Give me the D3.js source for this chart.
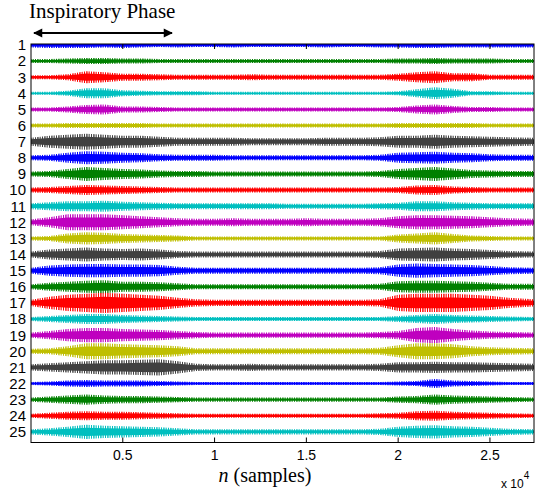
<!DOCTYPE html>
<html>
<head>
<meta charset="utf-8">
<script src="https://cdn.jsdelivr.net/npm/d3@7"></script>
<style>
  body { margin: 0; background: #fff; }
  svg { display: block; }
</style>
</head>
<body>
<div id="chart"></div>
<script>
// sample positions (n) where the envelope of each channel was read
const sampleIndex = [0, 1000, 2000, 3000, 4000, 5000, 6000, 7000, 8000, 9000, 10000, 11000, 12000, 13000,
  14000, 15000, 16000, 17000, 18000, 19000, 20000, 21000, 22000, 23000, 24000, 25000, 26000, 27400];

const channelLabels = d3.range(1, 26).map(String);

// half-amplitude of each channel (a.u., channel spacing = 16 a.u.)
const envelopes = [
  [2.5, 3, 3, 3, 2.5, 3, 2.5, 2, 2.5, 2, 2, 2.5, 2, 2, 2, 2, 2.5, 2, 2, 2.5, 2.5, 3, 3, 2.5, 2.5, 2.5, 2.5, 2.5],
  [2, 2, 2.5, 3, 3, 2.5, 2.5, 2, 2, 2, 2, 2, 2, 2, 2, 2, 2, 2, 2, 2, 2.5, 2.5, 3, 2.5, 2.5, 2.5, 2, 2],
  [2, 2, 3, 6, 5, 3.5, 3.5, 3, 2.5, 2.5, 2.5, 2.5, 3, 2.5, 2.5, 2.5, 2.5, 2.5, 2.5, 2.5, 3.5, 5, 6, 4, 4, 2.5, 2.5, 2.5],
  [1.5, 1.5, 2.5, 5, 5, 3, 2.5, 2, 2, 2, 1.5, 1.5, 1.5, 1.5, 1.5, 1.5, 1.5, 1.5, 1.5, 1.5, 2, 4, 6, 4.5, 2, 2, 1.5, 1.5],
  [2, 2, 3, 4.5, 5, 3, 3, 2.5, 2, 2, 2, 2, 2, 2, 2, 2, 2, 2, 2, 2, 2.5, 4, 5, 3.5, 2.5, 2.5, 2, 2],
  [2, 2, 2.5, 2.5, 2.5, 2.5, 2.5, 2, 2, 2, 2, 2, 2, 2, 2, 2, 2, 2, 2, 2, 2.5, 2.5, 2.5, 2.5, 2.5, 2, 2, 2],
  [4, 6, 7, 8, 7, 6, 6, 5, 4, 4, 4, 4, 3.5, 3.5, 3.5, 3.5, 4, 4, 4, 4.5, 6, 6, 7, 6, 5.5, 5, 4.5, 4],
  [2.5, 3, 5, 6.5, 6, 5, 4.5, 3.5, 3, 3, 3, 2.5, 2.5, 2.5, 2.5, 2.5, 2.5, 2.5, 2.5, 3, 5, 5.5, 6, 5, 4.5, 3.5, 3, 3],
  [2.5, 3, 5, 7, 6, 5, 4.5, 3.5, 3, 3, 2.5, 2.5, 2.5, 2.5, 2.5, 2.5, 2.5, 2.5, 2.5, 3, 5, 6, 7, 5.5, 4, 3.5, 3, 3],
  [2.5, 3, 4, 5, 4.5, 4, 3.5, 3, 2.5, 2.5, 2.5, 2.5, 2.5, 2.5, 2.5, 2.5, 2.5, 2.5, 2.5, 2.5, 3, 4.5, 5, 3.5, 3, 2.5, 2.5, 2.5],
  [3, 4, 5, 5, 5.5, 4.5, 4, 3.5, 3, 3, 3, 3, 3, 3, 2.5, 2.5, 2.5, 2.5, 2.5, 3, 3.5, 5, 5, 4, 3.5, 3, 3, 3],
  [3, 5, 8, 8, 8, 7, 6, 5, 4, 3.5, 3.5, 4, 3.5, 3.5, 3.5, 4, 3.5, 3.5, 3.5, 4, 6, 7, 7, 6.5, 6, 5, 4, 3.5],
  [2, 2.5, 5, 6, 5.5, 4.5, 4, 3.5, 3, 2, 2, 2, 2, 2, 2, 2, 2, 2, 2, 2, 4, 5, 6, 4.5, 3, 2.5, 2, 2],
  [3, 5, 6, 7, 6, 5.5, 6, 5, 3.5, 3, 3, 3, 3, 3, 3, 3, 3, 3, 3, 3.5, 6, 6.5, 7, 6, 5.5, 4.5, 3.5, 3],
  [3, 5, 6, 6.5, 6.5, 6, 6, 5.5, 4, 3, 3, 3, 3, 3, 3, 3, 3, 3, 3, 3.5, 6, 7, 6.5, 6, 5.5, 4.5, 3.5, 3],
  [2.5, 4, 5, 6, 6.5, 5, 5, 4.5, 3.5, 2.5, 2.5, 2.5, 2.5, 2.5, 2.5, 2.5, 2.5, 2.5, 2.5, 3, 5.5, 6, 6, 5.5, 5, 4, 3, 3],
  [3, 6, 8, 9, 10, 9, 8, 7, 5, 3.5, 3, 3, 3, 3, 3, 3, 3, 3, 3, 3.5, 8, 9, 9, 9, 8, 7, 5, 3.5],
  [2, 3, 4, 5, 5, 4, 3.5, 3, 2.5, 2, 2, 2, 2, 2, 2, 2, 2, 2, 2, 2, 3, 4, 5, 4, 3.5, 3, 2.5, 2],
  [2.5, 4, 6, 7, 7, 6, 5.5, 5, 4, 3, 2.5, 2.5, 2.5, 2.5, 2.5, 2.5, 2.5, 2.5, 2.5, 3, 4, 7, 8, 6, 4.5, 3.5, 3, 2.5],
  [2.5, 3, 5, 8, 8, 7, 6.5, 6, 5, 3, 3, 3, 3, 3, 3, 3, 3, 3, 3, 3.5, 6, 8, 8, 7, 5, 4, 3.5, 3],
  [3, 4, 5, 6, 7, 7, 7.5, 8, 6, 3.5, 3, 3, 3.5, 3, 3, 3, 3, 3, 3, 3.5, 5, 5, 5.5, 5, 5, 4.5, 4, 3.5],
  [1.5, 2, 3, 3.5, 3, 3, 3, 2.5, 2, 1.5, 1.5, 1.5, 1.5, 1.5, 1.5, 1.5, 1.5, 1.5, 1.5, 1.5, 2, 2.5, 4.5, 3, 2.5, 2, 1.5, 1.5],
  [2, 3, 4, 5, 4, 3.5, 3.5, 3, 2.5, 2, 2, 2, 2, 2, 2, 2, 2, 2, 2, 2, 3, 3.5, 5, 4, 3.5, 3, 2.5, 2],
  [2, 3, 4, 4.5, 4, 4, 3.5, 3, 2.5, 2, 2, 2, 2, 2, 2, 2, 2, 2, 2, 2.5, 3, 4.5, 5, 4, 3.5, 3, 2.5, 2],
  [2.5, 3.5, 5, 7, 6, 5.5, 5, 4.5, 3.5, 2.5, 2.5, 2.5, 2.5, 2.5, 2.5, 2.5, 2.5, 2.5, 2.5, 3, 5, 6, 6.5, 5.5, 5, 4, 3, 2.5]
];

const xTicks = [0.5, 1, 1.5, 2, 2.5];   // x 10^4 samples
const xMax = 2.74;                      // x 10^4

const channelStep = 16;
// MATLAB default line colour order
const colors = ['#0000ff', '#008000', '#ff0000', '#00bfbf', '#bf00bf', '#bfbf00', '#404040'];

const W = 535, H = 493;
const plot = { left: 31, right: 534, top: 44, bottom: 442.5 };

const svg = d3.select('#chart').append('svg')
  .attr('width', W).attr('height', H)
  .style('font-family', '"Liberation Sans", Arial, sans-serif');

const defs = svg.append('defs');

const x = d3.scaleLinear().domain([0, xMax * 1e4]).range([plot.left, plot.right]);
const y = d3.scaleLinear().domain([0.94, 25.66]).range([plot.top, plot.bottom]);

// hatch fill so the fringe of each trace reads as a dense line rather than a flat blob
colors.forEach((c, i) => {
  const p = defs.append('pattern').attr('id', 'hatch' + i)
    .attr('patternUnits', 'userSpaceOnUse')
    .attr('width', 7).attr('height', 40);
  [[0, 1], [2, 0.8], [3.4, 1], [5.2, 0.7]].forEach(([px, w]) => {
    p.append('rect').attr('x', px).attr('y', 0).attr('width', w).attr('height', 40).attr('fill', c);
  });
});

defs.append('clipPath').attr('id', 'clip')
  .append('rect')
  .attr('x', plot.left).attr('y', plot.top)
  .attr('width', plot.right - plot.left).attr('height', plot.bottom - plot.top);

const traces = svg.append('g').attr('clip-path', 'url(#clip)');

envelopes.forEach((env, i) => {
  const ch = i + 1;
  const pts = sampleIndex.map((n, k) => ({ n, a: env[k] }));
  const outer = d3.area()
    .x(d => x(d.n))
    .y0(d => y(ch + d.a / channelStep))
    .y1(d => y(ch - d.a / channelStep));
  const inner = d3.area()
    .x(d => x(d.n))
    .y0(d => y(ch + Math.max(0.8, d.a * 0.6) / channelStep))
    .y1(d => y(ch - Math.max(0.8, d.a * 0.6) / channelStep));
  const ci = i % colors.length;
  traces.append('path').datum(pts).attr('d', outer).attr('fill', 'url(#hatch' + ci + ')');
  traces.append('path').datum(pts).attr('d', inner).attr('fill', colors[ci]);
});

// box
svg.append('rect')
  .attr('x', plot.left).attr('y', plot.top)
  .attr('width', plot.right - plot.left).attr('height', plot.bottom - plot.top)
  .attr('fill', 'none').attr('stroke', '#000').attr('stroke-width', 1);

// x ticks (inward, bottom and top)
xTicks.forEach(t => {
  const px = x(t * 1e4);
  svg.append('line').attr('x1', px).attr('x2', px)
    .attr('y1', plot.bottom).attr('y2', plot.bottom - 5).attr('stroke', '#000');
  svg.append('line').attr('x1', px).attr('x2', px)
    .attr('y1', plot.top).attr('y2', plot.top + 5).attr('stroke', '#000');
  svg.append('text')
    .attr('x', px).attr('y', 460)
    .attr('text-anchor', 'middle')
    .attr('font-size', 14)
    .text(t);
});

// y labels
channelLabels.forEach((lab, i) => {
  svg.append('text')
    .attr('x', 26).attr('y', y(i + 1))
    .attr('dy', '0.36em')
    .attr('text-anchor', 'end')
    .attr('font-size', 15)
    .text(lab);
});

// exponent
const expo = svg.append('text').attr('x', 501).attr('y', 488).attr('font-size', 12);
expo.append('tspan').text('x 10');
expo.append('tspan').attr('dy', -9).attr('font-size', 10).text('4');

// x label
const xl = svg.append('text')
  .attr('x', 265).attr('y', 482)
  .attr('text-anchor', 'middle')
  .attr('font-family', '"Liberation Serif", "Times New Roman", serif')
  .attr('font-size', 20);
xl.append('tspan').attr('font-style', 'italic').text('n');
xl.append('tspan').text(' (samples)');

// annotation
svg.append('text')
  .attr('x', 29).attr('y', 18)
  .attr('font-family', '"Liberation Serif", "Times New Roman", serif')
  .attr('font-size', 21)
  .text('Inspiratory Phase');

defs.append('marker').attr('id', 'head')
  .attr('viewBox', '0 0 10 10').attr('refX', 9).attr('refY', 5)
  .attr('markerWidth', 6).attr('markerHeight', 4.6)
  .attr('markerUnits', 'strokeWidth')
  .attr('orient', 'auto-start-reverse')
  .append('path').attr('d', 'M0,0 L10,5 L0,10 z').attr('fill', '#000');

svg.append('line')
  .attr('x1', 34).attr('x2', 172)
  .attr('y1', 33).attr('y2', 33)
  .attr('stroke', '#000').attr('stroke-width', 2)
  .attr('marker-start', 'url(#head)')
  .attr('marker-end', 'url(#head)');
</script>
</body>
</html>
